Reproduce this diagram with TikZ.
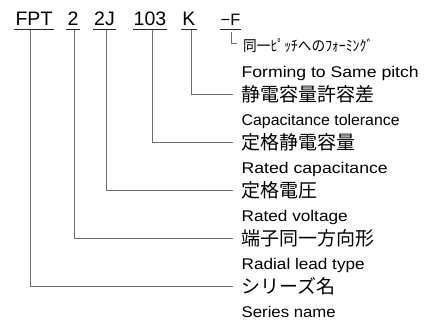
\documentclass[tikz,border=0pt]{standalone}
\usepackage{fontspec}
\usepackage{graphicx}
\setmainfont{Liberation Sans}
\newfontfamily\jpfont{Noto Sans CJK JP}
\newfontfamily\enfont{Liberation Sans}
\newcommand\fitw[2]{\resizebox{#1}{\height}{#2}}
\definecolor{linegray}{HTML}{6E6E6E}
\tikzset{
  code/.style={anchor=base, inner xsep=1pt, inner ysep=0pt, font=\fontsize{19.5}{20}\selectfont},
  codesmall/.style={anchor=base, inner xsep=0.5pt, inner ysep=0pt, font=\fontsize{16.5}{17}\selectfont},
  jplabel/.style={anchor=base west, inner sep=0pt, font=\jpfont\fontsize{19}{20}\selectfont},
  jpsmall/.style={anchor=base west, inner sep=0pt, font=\jpfont\fontsize{15}{16}\selectfont},
  enlabel/.style={anchor=base west, inner sep=0pt, font=\enfont\fontsize{15.5}{16}\selectfont},
  uline/.style={draw=black!85, line width=0.9pt},
  conn/.style={draw=linegray, line width=0.9pt},
}
\begin{document}
\begin{tikzpicture}[x=1pt, y=-1pt]
\useasboundingbox (0,0) rectangle (436,322);

% code parts
\node[code] (fpt) at (34,25) {FPT};
\node[code] (two) at (73,25) {2};
\node[code] (twoj) at (104.5,25) {2J};
\node[code] (ohtt) at (150,25) {103};
\node[code] (kk) at (189,25) {K};
\node[codesmall] (ff) at (230.5,25) {−F};

% underlines
\foreach \n in {fpt,two,twoj,ohtt,kk,ff}
  \draw[uline] (\n.base west |- 0,29) -- (\n.base east |- 0,29);

% labels
\node[jpsmall] (samej) at (243,51) {\fitw{130pt}{同一ﾋﾟｯﾁへのﾌｫｰﾐﾝｸﾞ}};
\node[enlabel] (samee) at (241.5,77) {\fitw{177pt}{Forming to Same pitch}};
\node[jplabel] (tolj) at (241,101) {静電容量許容差};
\node[enlabel] (tole) at (241.5,125) {\fitw{158pt}{Capacitance tolerance}};
\node[jplabel] (capj) at (241,149) {定格静電容量};
\node[enlabel] (cape) at (241.5,173) {\fitw{146pt}{Rated capacitance}};
\node[jplabel] (volj) at (241,197) {定格電圧};
\node[enlabel] (vole) at (241.5,221) {\fitw{106pt}{Rated voltage}};
\node[jplabel] (radj) at (241,245) {端子同一方向形};
\node[enlabel] (rade) at (241.5,269) {\fitw{123pt}{Radial lead type}};
\node[jplabel] (serj) at (241,293) {シリーズ名};
\node[enlabel] (sere) at (241.5,317) {\fitw{94pt}{Series name}};

% connector start points
\coordinate (sfpt) at (30,30);
\coordinate (stwo) at (74,30);
\coordinate (stwoj) at (106,30);
\coordinate (sohtt) at (152,30);
\coordinate (skk) at (191,30);
\coordinate (sff) at (231,32);

% connectors
\draw[conn] (sfpt) |- ([xshift=-8pt,yshift=7pt]serj.base west);
\draw[conn] (stwo) |- ([xshift=-8pt,yshift=7pt]radj.base west);
\draw[conn] (stwoj) |- ([xshift=-8pt,yshift=7pt]volj.base west);
\draw[conn] (sohtt) |- ([xshift=-8pt,yshift=7pt]capj.base west);
\draw[conn] (skk) |- ([xshift=-8pt,yshift=7pt]tolj.base west);
\draw[conn] (sff) |- ([xshift=-6pt,yshift=8pt]samej.base west);
\end{tikzpicture}
\end{document}
